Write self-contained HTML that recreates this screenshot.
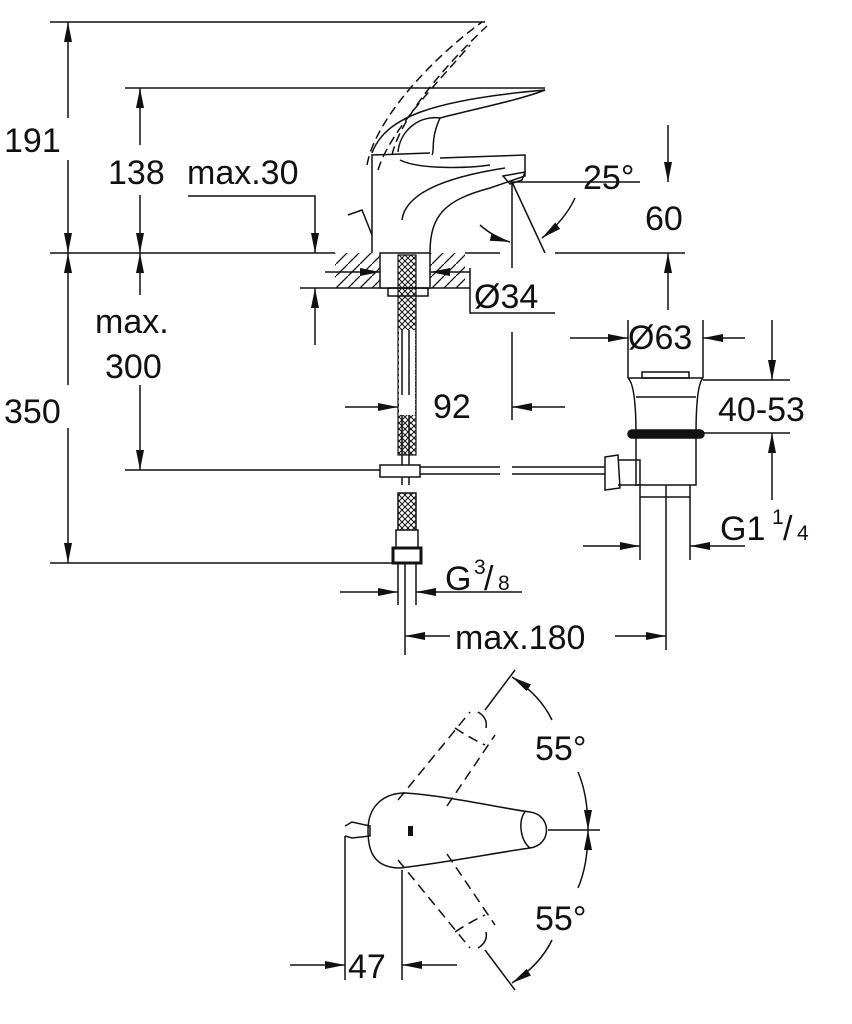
<!DOCTYPE html>
<html><head><meta charset="utf-8"><style>
html,body{margin:0;padding:0;background:#fff}
svg{display:block}
text{font-family:"Liberation Sans",sans-serif;font-size:34px;fill:#111}
</style></head><body>
<svg width="852" height="1024" viewBox="0 0 852 1024" xmlns="http://www.w3.org/2000/svg">
<defs>
<marker id="a" viewBox="0 0 20 10" refX="20" refY="5" markerWidth="20" markerHeight="10" markerUnits="userSpaceOnUse" orient="auto"><path d="M0,1L20,5L0,9z" fill="#111"/></marker>
<pattern id="h" width="12" height="12" patternUnits="userSpaceOnUse"><path d="M0,12L12,0" stroke="#111" stroke-width="1.3"/></pattern>
<pattern id="x" width="6" height="6" patternUnits="userSpaceOnUse"><path d="M0,6L6,0M0,0L6,6" stroke="#111" stroke-width="1"/></pattern>
</defs>
<g stroke="#111" stroke-width="1.5" fill="none">
<line x1="50" y1="22" x2="485" y2="22"/>
<line x1="125" y1="88" x2="545" y2="88"/>
<line x1="50" y1="253" x2="335" y2="253"/>
<line x1="465" y1="253" x2="500" y2="253"/>
<line x1="555" y1="253" x2="685" y2="253"/>
<line x1="50" y1="563" x2="398" y2="563"/>
<line x1="125" y1="470" x2="385" y2="470"/>
<line x1="68" y1="118" x2="68" y2="22" marker-end="url(#a)"/>
<line x1="68" y1="160" x2="68" y2="253" marker-end="url(#a)"/>
<line x1="68" y1="385" x2="68" y2="253" marker-end="url(#a)"/>
<line x1="68" y1="428" x2="68" y2="563" marker-end="url(#a)"/>
<line x1="140" y1="145" x2="140" y2="88" marker-end="url(#a)"/>
<line x1="140" y1="195" x2="140" y2="253" marker-end="url(#a)"/>
<line x1="140" y1="295" x2="140" y2="253" marker-end="url(#a)"/>
<line x1="140" y1="385" x2="140" y2="470" marker-end="url(#a)"/>
<polyline points="188,196 315,196 315,253" marker-end="url(#a)"/>
<line x1="300" y1="288" x2="470" y2="288"/>
<line x1="315" y1="345" x2="315" y2="288" marker-end="url(#a)"/>
<rect x="335" y="253" width="130" height="35" fill="url(#h)" stroke="none"/>
<rect x="380" y="253" width="50" height="35" fill="#fff" stroke="#111"/>
<line x1="325" y1="272" x2="380" y2="272" marker-end="url(#a)"/>
<line x1="470" y1="272" x2="430" y2="272" marker-end="url(#a)"/>
<polyline points="470,268 470,313 555,313"/>
<path d="M372,253 L372,155 L430,153"/>
<path d="M430,253 C430,215 445,200 490,188 L525,176 L525,155 L440,158"/>
<path d="M402,220 C405,195 440,178 505,168"/>
<path d="M400,160 C420,170 470,168 490,165"/>
<path d="M372,153 C385,118 430,100 545,90 C520,100 470,110 440,118 C430,140 435,150 432,155"/>
<path d="M398,152 C400,130 420,115 440,118"/>
<path d="M503,176 L525,172 L522,180 L510,184 z"/>
<path d="M348,215 L362,210 L372,235" />
<g stroke-dasharray="9,5">
<path d="M367,165 C375,120 430,60 482,22"/>
<path d="M392,155 C400,120 440,70 487,26"/>
<path d="M378,170 C390,130 440,80 470,45"/>
</g>
<line x1="510" y1="182" x2="640" y2="182"/>
<line x1="512" y1="182" x2="512" y2="268"/>
<line x1="512" y1="182" x2="545" y2="253"/>
<path d="M480,225 Q495,238 510,242" marker-end="url(#a)"/>
<path d="M575,198 Q565,220 542,238" marker-end="url(#a)"/>
<line x1="668" y1="125" x2="668" y2="182" marker-end="url(#a)"/>
<line x1="668" y1="310" x2="668" y2="253" marker-end="url(#a)"/>
<rect x="388" y="288" width="40" height="8"/>
<rect x="398" y="255" width="18" height="200" fill="url(#x)" stroke="#111" stroke-width="1.2"/>
<rect x="399" y="330" width="16" height="70" fill="#fff" stroke="none"/>
<line x1="402" y1="330" x2="402" y2="395"/><line x1="409" y1="330" x2="409" y2="395"/>
<rect x="399" y="400" width="16" height="15" fill="#fff" stroke="none"/>
<line x1="402" y1="415" x2="402" y2="485"/><line x1="409" y1="415" x2="409" y2="485"/>
<rect x="380" y="465" width="40" height="12" fill="#fff"/>
<path d="M420,467 L500,467 M420,474 L500,474 M512,467 L605,467 M512,474 L605,474"/>
<rect x="398" y="493" width="18" height="40" fill="url(#x)"/>
<rect x="396" y="530" width="22" height="18" fill="#fff"/>
<rect x="393" y="548" width="28" height="15" stroke-width="3" fill="#fff"/>
<line x1="398" y1="563" x2="398" y2="605"/><line x1="416" y1="563" x2="416" y2="605"/>
<line x1="405" y1="563" x2="405" y2="655"/>
<line x1="340" y1="592" x2="398" y2="592" marker-end="url(#a)"/>
<line x1="522" y1="592" x2="416" y2="592" marker-end="url(#a)"/>
<line x1="345" y1="407" x2="398" y2="407" marker-end="url(#a)"/>
<line x1="565" y1="407" x2="512" y2="407" marker-end="url(#a)"/>
<line x1="512" y1="332" x2="512" y2="420"/>
<path d="M605,457 L618,455 L620,488 L605,490 z"/>
<path d="M618,460 L640,460 L640,485 L618,485"/>
<path d="M628,378 L703,378 M628,378 C636,385 636,425 636,435 M703,378 C696,385 696,425 696,435"/>
<rect x="642" y="372" width="47" height="6"/>
<line x1="636" y1="397" x2="696" y2="397"/>
<rect x="628" y="430" width="76" height="8" rx="4" fill="#111"/>
<path d="M636,438 L636,485 L696,485 L696,438 M640,485 L640,497 L690,497 L690,485"/>
<line x1="666" y1="485" x2="666" y2="650"/>
<line x1="628" y1="320" x2="628" y2="378"/><line x1="703" y1="320" x2="703" y2="378"/>
<line x1="570" y1="338" x2="628" y2="338" marker-end="url(#a)"/>
<line x1="745" y1="338" x2="703" y2="338" marker-end="url(#a)"/>
<line x1="703" y1="380" x2="790" y2="380"/><line x1="704" y1="433" x2="790" y2="433"/>
<line x1="772" y1="320" x2="772" y2="380" marker-end="url(#a)"/>
<line x1="772" y1="500" x2="772" y2="433" marker-end="url(#a)"/>
<line x1="640" y1="497" x2="640" y2="560"/><line x1="690" y1="497" x2="690" y2="560"/>
<line x1="583" y1="546" x2="640" y2="546" marker-end="url(#a)"/>
<line x1="745" y1="546" x2="690" y2="546" marker-end="url(#a)"/>
<line x1="450" y1="636" x2="405" y2="636" marker-end="url(#a)"/>
<line x1="615" y1="636" x2="666" y2="636" marker-end="url(#a)"/>
<path d="M400,868 C370,868 368,845 368,830 C368,805 385,793 405,793 C450,796 500,808 530,812 C552,815 552,845 530,848 C500,852 450,862 400,868 z"/>
<path d="M525,812 C518,820 520,840 530,848"/>
<path d="M345,826 L352,822 L370,826 L370,836 L352,838 L345,836"/>
<rect x="408" y="826" width="5" height="10" fill="#111" stroke="none"/>
<line x1="548" y1="830" x2="600" y2="830"/>
<g stroke-dasharray="10,6">
<line x1="398" y1="800" x2="470" y2="712"/><line x1="447" y1="806" x2="495" y2="735"/>
<line x1="398" y1="860" x2="470" y2="948"/><line x1="447" y1="854" x2="495" y2="925"/>
<path d="M455,728 Q470,738 485,745"/><path d="M455,932 Q470,922 485,915"/>
</g>
<path d="M478,712 Q488,718 486,728"/><path d="M478,948 Q488,942 486,932"/>
<line x1="485" y1="710" x2="515" y2="670"/>
<line x1="485" y1="950" x2="515" y2="990"/>
<path d="M552,720 Q540,695 512,677" marker-end="url(#a)"/>
<path d="M578,772 Q588,795 588,830" marker-end="url(#a)"/>
<path d="M578,888 Q588,865 588,830" marker-end="url(#a)"/>
<path d="M552,940 Q540,965 512,983" marker-end="url(#a)"/>
<line x1="345" y1="836" x2="345" y2="980"/><line x1="402" y1="870" x2="402" y2="980"/>
<line x1="290" y1="965" x2="345" y2="965" marker-end="url(#a)"/>
<line x1="457" y1="965" x2="402" y2="965" marker-end="url(#a)"/>
</g>
<g>
<text x="4" y="152">191</text>
<text x="4" y="423">350</text>
<text x="108" y="184">138</text>
<text x="187" y="184">max.30</text>
<text x="95" y="333">max.</text>
<text x="105" y="378">300</text>
<text x="583" y="189">25°</text>
<text x="645" y="230">60</text>
<text x="474" y="308">Ø34</text>
<text x="433" y="418">92</text>
<text x="628" y="349">Ø63</text>
<text x="718" y="421">40-53</text>
<text x="720" y="540">G1</text><text x="772" y="524" style="font-size:21px">1</text><text x="783" y="540">/</text><text x="797" y="540" style="font-size:21px">4</text>
<text x="445" y="590">G</text><text x="474" y="574" style="font-size:21px">3</text><text x="484" y="590">/</text><text x="498" y="590" style="font-size:21px">8</text>
<text x="455" y="649">max.180</text>
<text x="535" y="760">55°</text>
<text x="535" y="930">55°</text>
<text x="348" y="978">47</text>
</g>
</svg>
</body></html>
